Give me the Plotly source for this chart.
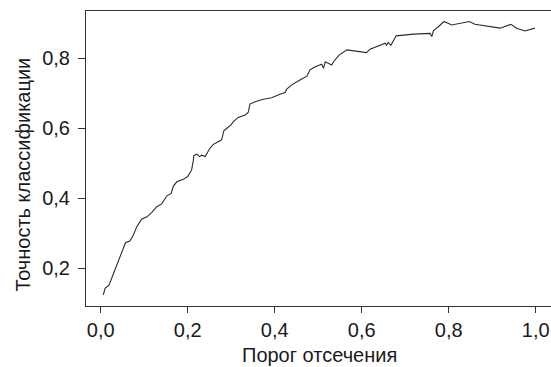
import plotly.graph_objects as go

threshold = [0.006, 0.010, 0.019, 0.025, 0.033, 0.042, 0.052, 0.057, 0.067, 0.075,
             0.083, 0.094, 0.106, 0.117, 0.129, 0.140, 0.146, 0.152, 0.162, 0.167,
             0.175, 0.190, 0.200, 0.209, 0.213, 0.214, 0.221, 0.227, 0.232, 0.240,
             0.251, 0.259, 0.278, 0.283, 0.290, 0.299, 0.305, 0.316, 0.332, 0.339,
             0.343, 0.355, 0.374, 0.393, 0.412, 0.424, 0.427, 0.439, 0.458, 0.474,
             0.481, 0.493, 0.508, 0.512, 0.516, 0.531, 0.535, 0.548, 0.566, 0.611,
             0.619, 0.654, 0.657, 0.661, 0.667, 0.679, 0.719, 0.757, 0.761, 0.765,
             0.776, 0.789, 0.807, 0.847, 0.860, 0.918, 0.943, 0.956, 0.975, 0.998]
accuracy = [0.124, 0.143, 0.152, 0.171, 0.195, 0.224, 0.252, 0.273, 0.278, 0.295,
            0.319, 0.340, 0.347, 0.359, 0.376, 0.384, 0.395, 0.407, 0.414, 0.435,
            0.447, 0.454, 0.462, 0.481, 0.509, 0.522, 0.526, 0.519, 0.523, 0.519,
            0.543, 0.554, 0.567, 0.593, 0.600, 0.609, 0.619, 0.631, 0.638, 0.645,
            0.669, 0.676, 0.683, 0.687, 0.697, 0.702, 0.711, 0.724, 0.738, 0.749,
            0.767, 0.776, 0.783, 0.771, 0.790, 0.781, 0.790, 0.809, 0.824, 0.816,
            0.826, 0.843, 0.837, 0.845, 0.837, 0.864, 0.869, 0.871, 0.862, 0.879,
            0.890, 0.905, 0.895, 0.905, 0.897, 0.886, 0.897, 0.886, 0.878, 0.886]

x_ticks = [0.0, 0.2, 0.4, 0.6, 0.8, 1.0]
x_ticklabels = ["0,0", "0,2", "0,4", "0,6", "0,8", "1,0"]
y_ticks = [0.2, 0.4, 0.6, 0.8]
y_ticklabels = ["0,2", "0,4", "0,6", "0,8"]
x_title = "Порог отсечения"
y_title = "Точность классификации"

FONT = "Liberation Sans, Arial, sans-serif"
AX = "#333333"
FS = 20

fig = go.Figure()
fig.add_trace(go.Scatter(x=threshold, y=accuracy, mode="lines",
                         line=dict(color="#2b2b2b", width=1.1), hoverinfo="skip"))

fig.update_layout(
    width=551, height=367,
    margin=dict(l=86, r=0, t=11, b=61),
    paper_bgcolor="white", plot_bgcolor="white",
    showlegend=False,
    font=dict(family=FONT, size=FS, color="#1a1a1a"),
    xaxis=dict(range=[-0.0338, 1.035], tickvals=x_ticks, ticktext=x_ticklabels,
               showgrid=False, zeroline=False, showline=True, linecolor=AX, linewidth=1,
               mirror=True, ticks="outside", ticklen=6, tickcolor=AX, tickwidth=1,
               tickfont=dict(size=FS), automargin=False),
    yaxis=dict(range=[0.0923, 0.935], tickvals=y_ticks, ticktext=y_ticklabels,
               showgrid=False, zeroline=False, showline=True, linecolor=AX, linewidth=1,
               ticks="outside", ticklen=7, tickcolor=AX, tickwidth=1,
               ticklabelstandoff=4,
               tickfont=dict(size=FS), automargin=False),
    annotations=[
        dict(text=x_title, xref="paper", yref="paper", x=(319 - 86) / 465,
             y=-(355 - 306) / 295, xanchor="center", yanchor="middle",
             showarrow=False, font=dict(size=FS)),
        dict(text=y_title, xref="paper", yref="paper", x=-(86 - 22) / 465,
             y=(306 - 174.5) / 295, xanchor="center", yanchor="middle",
             textangle=-90, showarrow=False, font=dict(size=FS)),
    ],
)

fig.write_html("out.html", config={"displayModeBar": False},
               post_script="document.body.style.margin='0';document.body.style.padding='0';document.body.style.overflow='hidden';")
